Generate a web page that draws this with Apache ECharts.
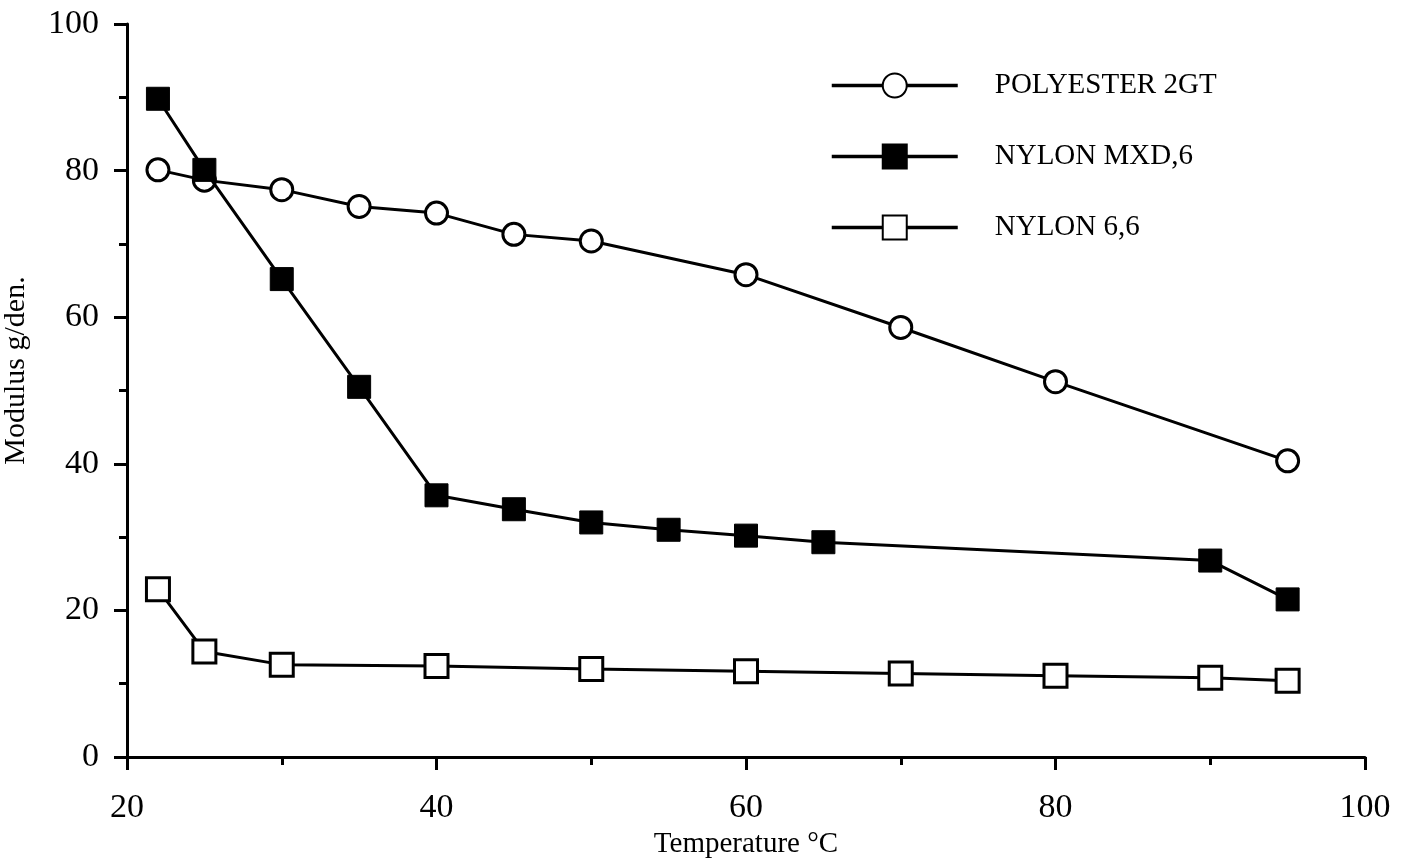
<!DOCTYPE html>
<html>
<head>
<meta charset="utf-8">
<script src="https://cdn.jsdelivr.net/npm/echarts@6/dist/echarts.min.js"></script>
<style>
  html, body { margin: 0; padding: 0; background: #fff; }
  #chart { width: 1406px; height: 860px; }
</style>
</head>
<body>
<div id="chart"></div>
<script>
// temperature (°C) and modulus (g/den.)
const polyesterTemp = [22, 25, 30, 35, 40, 45, 50, 60, 70, 80, 95]
const polyesterMod  = [80.1, 78.7, 77.4, 75.1, 74.2, 71.3, 70.4, 65.8, 58.6, 51.2, 40.4]

const mxdTemp = [22, 25, 30, 35, 40, 45, 50, 55, 60, 65, 90, 95]
const mxdMod  = [89.8, 80.1, 65.2, 50.5, 35.7, 33.8, 32.0, 31.0, 30.2, 29.3, 26.8, 21.5]

const n66Temp = [22, 25, 30, 40, 50, 60, 70, 80, 90, 95]
const n66Mod  = [22.9, 14.4, 12.6, 12.4, 12.0, 11.7, 11.4, 11.1, 10.8, 10.4]

const seriesNames = ['POLYESTER 2GT', 'NYLON MXD,6', 'NYLON 6,6']

const font = '"Liberation Serif", "DejaVu Serif", serif'
const zip = (xs, ys) => xs.map((x, i) => [x, ys[i]])

const chart = echarts.init(document.getElementById('chart'), null, { renderer: 'canvas' })

const lineStyle = { color: '#000', width: 3 }
const axisCommon = {
  type: 'value',
  interval: 20,
  nameLocation: 'middle',
  axisLine: { onZero: false, lineStyle: { color: '#000', width: 3 } },
  axisTick: { length: 13, lineStyle: { color: '#000', width: 3 } },
  minorTick: { show: true, splitNumber: 2, length: 8, lineStyle: { color: '#000', width: 3 } },
  splitLine: { show: false },
  minorSplitLine: { show: false },
}

chart.setOption({
  animation: false,
  backgroundColor: '#fff',
  textStyle: { fontFamily: font, color: '#000' },
  grid: { left: 127, right: 41, top: 24, bottom: 103, outerBoundsMode: 'none', containLabel: false },
  legend: {
    orient: 'vertical',
    left: 825,
    top: 66,
    data: seriesNames,
    itemWidth: 126,
    itemHeight: 30,
    itemGap: 42,
    lineStyle: { width: 3.5 },
    textStyle: { fontFamily: font, fontSize: 29, color: '#000', padding: [0, 0, 0, 32] },
  },
  xAxis: {
    ...axisCommon,
    min: 20,
    max: 100,
    name: 'Temperature °C',
    nameGap: 68,
    nameTextStyle: { fontFamily: font, fontSize: 29, color: '#000' },
    axisLabel: { fontFamily: font, fontSize: 34, color: '#000', margin: 34 },
  },
  yAxis: {
    ...axisCommon,
    min: 0,
    max: 100,
    name: 'Modulus g/den.',
    nameRotate: 90,
    nameGap: 96,
    nameTextStyle: { fontFamily: font, fontSize: 30, color: '#000', padding: [0, 0, 0, 40] },
    axisLabel: { fontFamily: font, fontSize: 34, color: '#000', margin: 28 },
  },
  series: [
    {
      name: seriesNames[0],
      type: 'line',
      z: 2,
      data: zip(polyesterTemp, polyesterMod),
      symbol: 'circle',
      symbolSize: 22,
      lineStyle,
      itemStyle: { color: '#fff', borderColor: '#000', borderWidth: 3 },
    },
    {
      name: seriesNames[1],
      type: 'line',
      z: 4,
      data: zip(mxdTemp, mxdMod),
      symbol: 'rect',
      symbolSize: 23,
      lineStyle,
      itemStyle: { color: '#000', borderColor: '#000', borderWidth: 1 },
    },
    {
      name: seriesNames[2],
      type: 'line',
      z: 3,
      data: zip(n66Temp, n66Mod),
      symbol: 'rect',
      symbolSize: 23,
      lineStyle,
      itemStyle: { color: '#fff', borderColor: '#000', borderWidth: 3 },
    },
  ],
})
</script>
</body>
</html>
